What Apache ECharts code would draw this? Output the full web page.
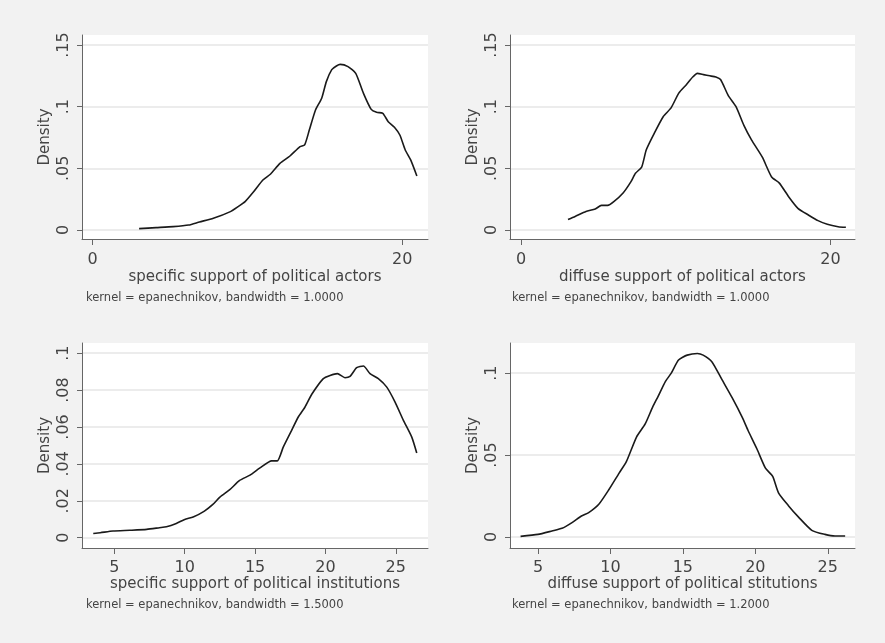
<!DOCTYPE html>
<html>
<head>
<meta charset="utf-8">
<script src="https://cdn.jsdelivr.net/npm/echarts@6/dist/echarts.min.js"></script>
<style>
html, body { margin: 0; padding: 0; background: #f2f2f2; }
#main { width: 885px; height: 643px; }
</style>
</head>
<body>
<div id="main"></div>
<script>
// kernel density curves

// specific support of political actors
var actSpecX = [3.0, 4.1, 5.2, 6.2, 6.9, 7.8, 8.9, 9.4, 9.85, 10.4, 11.0, 11.5, 12.1, 12.75, 13.4, 13.7, 14.0, 14.4, 14.8, 15.1, 15.45, 15.75, 16.0, 16.5, 17.0, 17.5, 18.0, 18.35, 18.75, 19.1, 19.5, 19.85, 20.2, 20.55, 20.95];
var actSpecY = [0.0011, 0.0019, 0.0027, 0.0040, 0.0065, 0.0095, 0.0149, 0.019, 0.023, 0.031, 0.0405, 0.0454, 0.054, 0.060, 0.0676, 0.069, 0.081, 0.0973, 0.1068, 0.1203, 0.130, 0.133, 0.1343, 0.1325, 0.127, 0.1108, 0.0978, 0.0954, 0.0946, 0.0878, 0.0833, 0.077, 0.0649, 0.0568, 0.0438];

// diffuse support of political actors
var actDiffX = [3.04, 3.5, 4.2, 4.8, 5.2, 5.6, 6.0, 6.6, 7.1, 7.4, 7.8, 8.1, 8.6, 9.2, 9.7, 10.2, 10.7, 11.1, 11.4, 11.8, 12.2, 12.6, 12.9, 13.4, 13.9, 14.4, 14.9, 15.6, 16.2, 16.7, 17.3, 17.9, 18.6, 19.2, 19.8, 20.5, 21.0];
var actDiffY = [0.0086, 0.011, 0.015, 0.017, 0.020, 0.020, 0.023, 0.030, 0.039, 0.046, 0.051, 0.065, 0.078, 0.092, 0.099, 0.111, 0.118, 0.124, 0.127, 0.126, 0.125, 0.124, 0.122, 0.109, 0.100, 0.085, 0.073, 0.059, 0.043, 0.038, 0.027, 0.0176, 0.012, 0.0076, 0.0046, 0.0027, 0.0022];

// specific support of political institutions
var instSpecX = [3.5, 4.0, 4.9, 6.1, 7.3, 8.2, 8.7, 9.4, 10.0, 10.6, 11.4, 12.0, 12.5, 13.2, 13.9, 14.64, 15.35, 16.18, 16.58, 17.01, 17.6, 18.07, 18.55, 19.03, 19.85, 20.33, 20.85, 21.39, 21.75, 22.22, 22.7, 23.17, 23.76, 24.36, 24.95, 25.54, 26.13, 26.49];
var instSpecY = [0.0023, 0.0027, 0.0036, 0.0040, 0.0045, 0.0054, 0.0059, 0.0077, 0.0099, 0.0112, 0.0144, 0.018, 0.022, 0.026, 0.031, 0.0339, 0.0378, 0.0416, 0.0416, 0.0492, 0.0582, 0.0654, 0.0708, 0.0777, 0.0862, 0.0879, 0.0889, 0.0867, 0.0874, 0.0921, 0.093, 0.0889, 0.0862, 0.0816, 0.0735, 0.0636, 0.0546, 0.0459];

// diffuse support of political stitutions
var instDiffX = [3.8, 5.0, 5.97, 6.66, 7.35, 8.0, 8.5, 9.2, 9.9, 10.6, 11.1, 11.8, 12.4, 12.9, 13.3, 13.8, 14.2, 14.7, 15.3, 16.0, 16.4, 17.0, 17.7, 18.4, 19.1, 19.5, 20.1, 20.7, 21.2, 21.6, 22.3, 23.0, 23.9, 24.8, 25.5, 26.2];
var instDiffY = [0.0004, 0.0016, 0.0037, 0.0053, 0.0088, 0.0128, 0.0149, 0.020, 0.029, 0.039, 0.046, 0.061, 0.069, 0.079, 0.086, 0.095, 0.100, 0.108, 0.111, 0.112, 0.111, 0.107, 0.096, 0.085, 0.073, 0.065, 0.054, 0.042, 0.037, 0.027, 0.019, 0.012, 0.0041, 0.0016, 0.0006, 0.0006];

var xTicksTop = [0, 20];
var xTicksBottom = [5, 10, 15, 20, 25];
var yTicksActors = [0, 0.05, 0.1, 0.15];
var yTicksInstSpec = [0, 0.02, 0.04, 0.06, 0.08, 0.1];
var yTicksInstDiff = [0, 0.05, 0.1];

var xTitles = [
    'specific support of political actors',
    'diffuse support of political actors',
    'specific support of political institutions',
    'diffuse support of political stitutions'
];
var yTitle = 'Density';
var captions = [
    'kernel = epanechnikov, bandwidth = 1.0000',
    'kernel = epanechnikov, bandwidth = 1.0000',
    'kernel = epanechnikov, bandwidth = 1.5000',
    'kernel = epanechnikov, bandwidth = 1.2000'
];

var FONT = 'DejaVu Sans';
var TXT = '#444';
var AXIS = '#666';

function pairs(xs, ys) {
    var out = [];
    for (var i = 0; i < xs.length; i++) out.push([xs[i], ys[i]]);
    return out;
}

function stataNum(v) {
    if (v === 0) return '0';
    return String(+v.toFixed(3)).replace(/^0\./, '.');
}

function xAxis(idx, min, max, ticks, gap, margin) {
    return {
        type: 'value', gridIndex: idx, min: min, max: max,
        name: xTitles[idx], nameLocation: 'middle', nameGap: gap,
        nameTextStyle: { fontFamily: FONT, fontSize: 15, color: TXT },
        axisLine: { show: true, onZero: false, lineStyle: { color: AXIS, width: 1 } },
        axisTick: { show: true, length: 6, customValues: ticks, lineStyle: { color: AXIS } },
        axisLabel: { customValues: ticks, margin: margin, fontFamily: FONT, fontSize: 16, color: TXT, showMinLabel: true, showMaxLabel: true },
        splitLine: { show: false }
    };
}

function yAxis(idx, min, max, ticks) {
    return {
        type: 'value', gridIndex: idx, min: min, max: max,
        name: yTitle, nameLocation: 'middle', nameGap: 29,
        nameTextStyle: { fontFamily: FONT, fontSize: 15, color: TXT },
        axisLine: { show: true, onZero: false, lineStyle: { color: AXIS, width: 1 } },
        axisTick: { show: true, length: 5, customValues: ticks, lineStyle: { color: AXIS } },
        axisLabel: { customValues: ticks, rotate: 90, margin: 10, fontFamily: FONT, fontSize: 16, color: TXT, formatter: stataNum },
        splitLine: { show: true, lineStyle: { color: '#ececec', width: 2 } }
    };
}

function curve(idx, data) {
    return {
        type: 'line', xAxisIndex: idx, yAxisIndex: idx,
        data: data, showSymbol: false, smooth: 0.2,
        lineStyle: { color: '#1a1a1a', width: 1.6 },
        silent: true
    };
}

function caption(idx, left, top) {
    return {
        type: 'text', left: left, top: top,
        style: { text: captions[idx], fontFamily: FONT, fontSize: 11.5, fill: TXT }
    };
}

var chart = echarts.init(document.getElementById('main'));
var gridStyle = { show: true, backgroundColor: '#ffffff', borderWidth: 0 };

var option = {
    backgroundColor: '#f2f2f2',
    animation: false,
    grid: [
        Object.assign({ left: 82, top: 35, width: 346, height: 204 }, gridStyle),
        Object.assign({ left: 510, top: 35, width: 345, height: 204 }, gridStyle),
        Object.assign({ left: 82, top: 343, width: 346, height: 205 }, gridStyle),
        Object.assign({ left: 510, top: 343, width: 345, height: 205 }, gridStyle)
    ],
    xAxis: [
        xAxis(0, -0.69, 21.67, xTicksTop, 31, 13),
        xAxis(1, -0.71, 21.59, xTicksTop, 31, 13),
        xAxis(2, 2.70, 27.29, xTicksBottom, 28, 12),
        xAxis(3, 3.07, 26.88, xTicksBottom, 28, 12)
    ],
    yAxis: [
        yAxis(0, -0.0073, 0.1581, yTicksActors),
        yAxis(1, -0.0073, 0.1581, yTicksActors),
        yAxis(2, -0.0056, 0.1055, yTicksInstSpec),
        yAxis(3, -0.0067, 0.1184, yTicksInstDiff)
    ],
    series: [
        curve(0, pairs(actSpecX, actSpecY)),
        curve(1, pairs(actDiffX, actDiffY)),
        curve(2, pairs(instSpecX, instSpecY)),
        curve(3, pairs(instDiffX, instDiffY))
    ],
    graphic: [
        caption(0, 86, 292),
        caption(1, 512, 292),
        caption(2, 86, 599),
        caption(3, 512, 599)
    ]
};

chart.setOption(option);
window.addEventListener('resize', function () {
    chart.resize();
});
</script>
</body>
</html>
